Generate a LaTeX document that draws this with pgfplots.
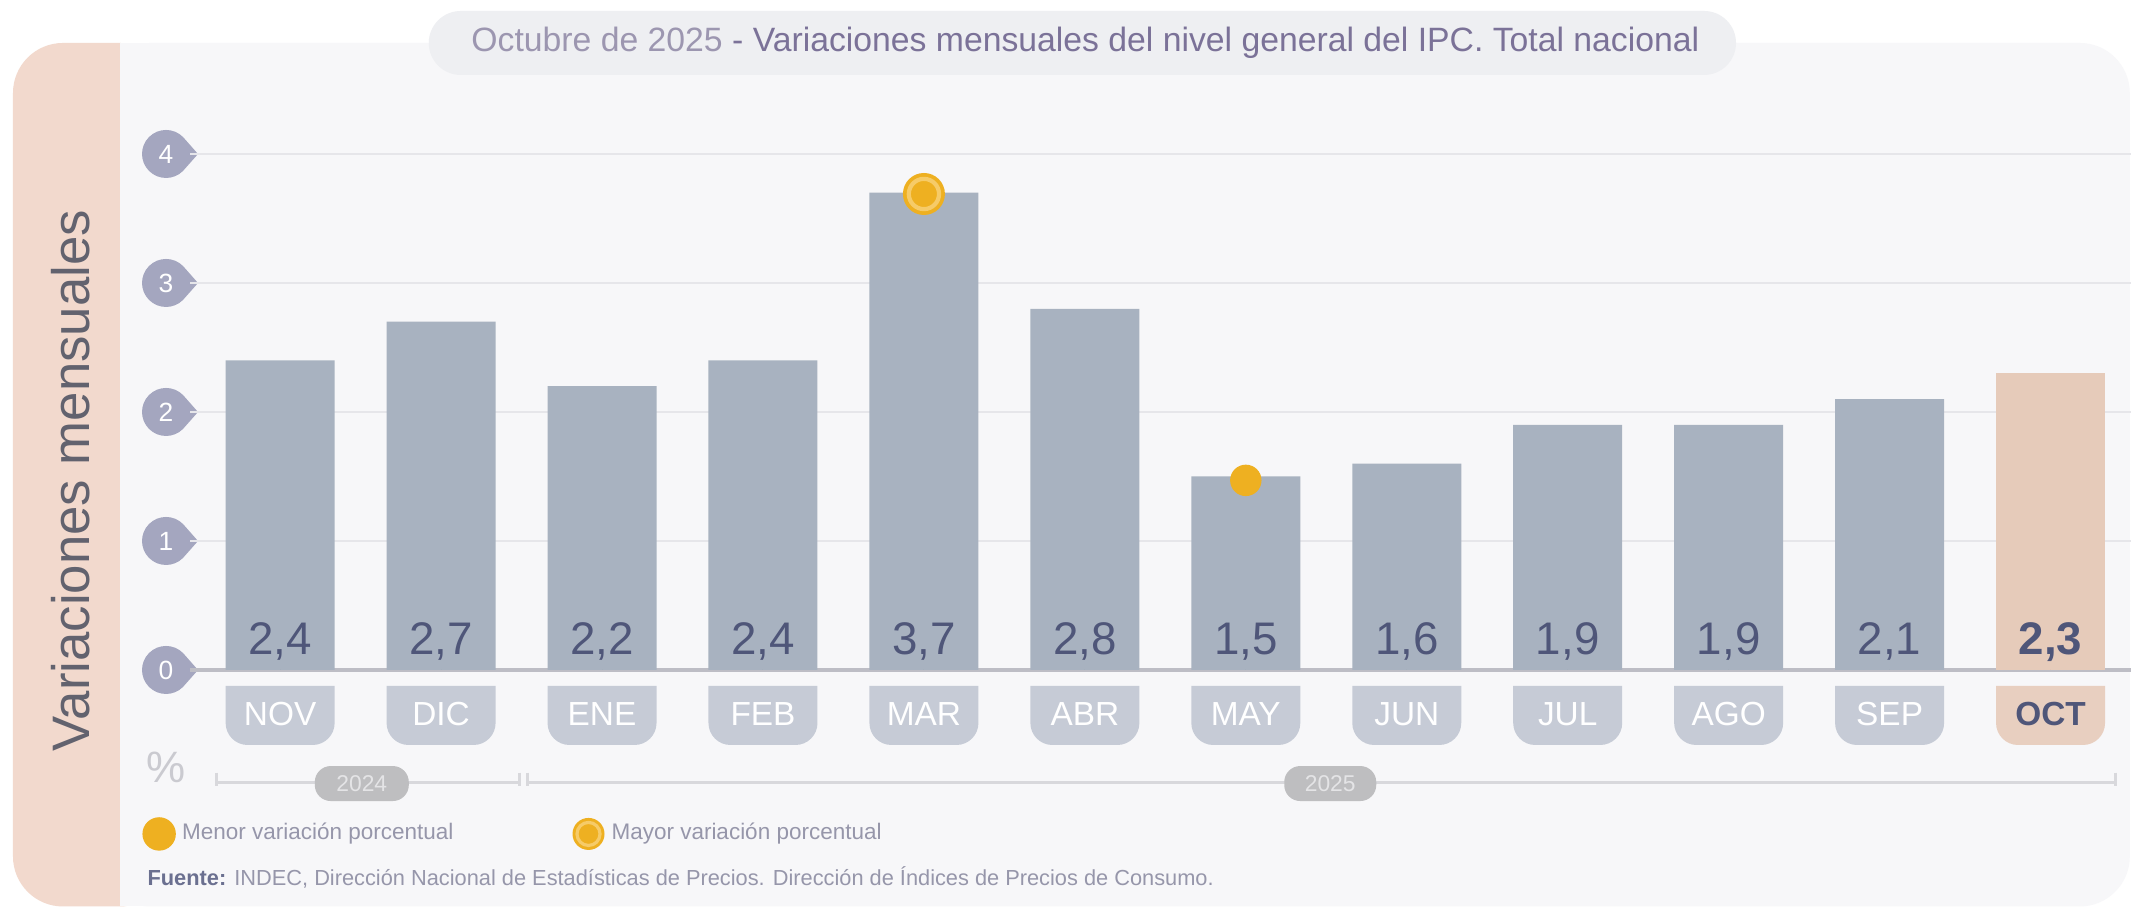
\documentclass[border=0pt]{standalone}
\usepackage{pgfplots}
\pgfplotsset{compat=1.18}
\usepackage{fontspec}
\setmainfont{Liberation Sans}

\definecolor{panel}{HTML}{F7F7F9}
\definecolor{pinkpanel}{HTML}{F2D9CD}
\definecolor{titlepill}{HTML}{EEEFF2}
\definecolor{titletext}{HTML}{7B7298}
\definecolor{titlelight}{HTML}{9C96B0}
\definecolor{gridc}{HTML}{E6E6EA}
\definecolor{basec}{HTML}{BDBDC5}
\definecolor{barc}{HTML}{A8B2C0}
\definecolor{baroct}{HTML}{E6CBBA}
\definecolor{tabc}{HTML}{C6CBD6}
\definecolor{taboct}{HTML}{E8CFC0}
\definecolor{valtext}{HTML}{4F5679}
\definecolor{bubblec}{HTML}{A4A6BF}
\definecolor{ipcorange}{HTML}{EEB021}
\definecolor{ipclight}{HTML}{F6CB68}
\definecolor{pctc}{HTML}{CACAD0}
\definecolor{yearline}{HTML}{D8D8DC}
\definecolor{yearpill}{HTML}{BEBEC0}
\definecolor{yeartext}{HTML}{E4E4E6}
\definecolor{legtext}{HTML}{9696AA}
\definecolor{fuentec}{HTML}{6B7090}
\definecolor{sidetext}{HTML}{62626E}

% tab under each bar, square top and round bottom
\pgfdeclareplotmark{tab}{%
  \pgfpathmoveto{\pgfpoint{-0.545cm}{0cm}}%
  \pgfpathlineto{\pgfpoint{0.545cm}{0cm}}%
  \pgfpathlineto{\pgfpoint{0.545cm}{-0.37cm}}%
  \pgfpatharc{0}{-90}{0.22cm}%
  \pgfpathlineto{\pgfpoint{-0.325cm}{-0.59cm}}%
  \pgfpatharc{270}{180}{0.22cm}%
  \pgfpathclose
  \pgfusepathqfill}
% y tick bubble pointing right
\pgfdeclareplotmark{bubble}{%
  \pgfpathmoveto{\pgfpoint{0.08cm}{0cm}}%
  \pgfpathlineto{\pgfpoint{-0.07cm}{0.17cm}}%
  \pgfpatharc{45}{315}{0.24cm}%
  \pgfpathclose
  \pgfusepathqfill}
% ring marker for the highest value
\pgfdeclareplotmark{ring}{%
  \pgfsetfillcolor{ipcorange}%
  \pgfpathcircle{\pgfpointorigin}{\pgfplotmarksize}\pgfusepathqfill
  \pgfsetstrokecolor{ipclight}\pgfsetlinewidth{0.2\pgfplotmarksize}%
  \pgfpathcircle{\pgfpointorigin}{0.72\pgfplotmarksize}\pgfusepathqstroke}

\pgfplotsset{ipcframe/.style={
  at={(1.90cm,2.37cm)}, anchor=south west,
  scale only axis, width=19.41cm, height=5.418cm,
  xmin=-0.56, xmax=11.5, ymin=0, ymax=4.2,
  clip=false}}

\begin{document}
\begin{tikzpicture}
\fill[white] (0,0) rectangle (21.31,9.07);
\path[use as bounding box] (0,0) rectangle (21.31,9.07);
\clip (0,0) rectangle (21.31,9.07);
\begin{scope}[x=0.01cm,y=-0.01cm,yshift=9.07cm]
  \fill[panel, rounded corners=0.5cm] (100,43) rectangle (2131,907);
  \fill[pinkpanel, rounded corners=0.5cm] (13,43) rectangle (170,907);
  \fill[panel] (120,43) rectangle (220,907);
  \fill[titlepill, rounded corners=0.32cm] (429,11) rectangle (1737,75);
  \node[text=titletext, font=\fontsize{9.6}{10}\selectfont] at (1086,43)
    {\textcolor{titlelight}{Octubre de 2025} - Variaciones mensuales del nivel general del IPC. Total nacional};
  \node[rotate=90, text=sidetext, font=\fontsize{15}{16}\selectfont] at (71,481) {Variaciones mensuales};
  \node[text=pctc, font=\fontsize{12.5}{14}\selectfont] at (166,768) {\%};
  \draw[yearline, line width=0.85pt] (217,783) -- (520,783) (528,783) -- (2117,783);
  \draw[yearline, line width=0.85pt] (217,773) -- (217,786) (520,773) -- (520,786)
    (528,773) -- (528,786) (2117,773) -- (2117,786);
  \node[fill=yearpill, rounded corners=0.16cm, minimum width=0.94cm, minimum height=0.35cm,
    inner sep=0pt, text=yeartext, font=\fontsize{6.5}{7}\selectfont] at (362,784) {2024};
  \node[fill=yearpill, rounded corners=0.16cm, minimum width=0.92cm, minimum height=0.35cm,
    inner sep=0pt, text=yeartext, font=\fontsize{6.5}{7}\selectfont] at (1331,784) {2025};
  \node[anchor=west, inner sep=0pt, text=legtext, font=\fontsize{6.2}{7}\selectfont] at (147,878)
    {\textbf{\color{fuentec}Fuente:} INDEC, Dirección Nacional de Estadísticas de Precios. Dirección de Índices de Precios de Consumo.};
\end{scope}

% tabs and bubbles go under the tick labels of the main axis
\begin{axis}[ipcframe, hide axis]
\addplot[only marks, mark=tab, mark options={fill=tabc, draw=none}] coordinates {
  (0,-0.124) (1,-0.124) (2,-0.124) (3,-0.124) (4,-0.124) (5,-0.124)
  (6,-0.124) (7,-0.124) (8,-0.124) (9,-0.124) (10,-0.124)};
\addplot[only marks, mark=tab, mark options={fill=taboct, draw=none}] coordinates {(11,-0.124)};
\addplot[only marks, mark=bubble, mark options={fill=bubblec, draw=none}] coordinates {
  (-0.56,0) (-0.56,1) (-0.56,2) (-0.56,3) (-0.56,4)};
\end{axis}

\begin{axis}[ipcframe,
  axis x line*=bottom, axis y line*=left,
  y axis line style={draw=none},
  x axis line style={draw=basec, line width=1pt},
  major tick length=0pt,
  xtick={0,...,11},
  xticklabels={NOV,DIC,ENE,FEB,MAR,ABR,MAY,JUN,JUL,AGO,SEP,\textbf{\color{valtext}OCT}},
  xticklabel style={anchor=center, yshift=-0.44cm, text=white, font=\fontsize{9.5}{10}\selectfont},
  ytick={0,1,2,3,4},
  yticklabels={0,1,2,3,4},
  yticklabel style={anchor=center, xshift=-0.24cm, text=white, font=\fontsize{7.5}{8}\selectfont},
  ymajorgrids, grid style={draw=gridc, line width=0.85pt},
  legend style={at={(axis description cs:-0.0245,-0.3026)}, anchor=west, legend columns=2,
    draw=none, fill=none, font=\fontsize{6.4}{7}\selectfont, text=legtext, inner sep=0pt,
    /tikz/every even column/.append style={column sep=1.12cm}},
  legend image code/.code={\draw[#1] plot coordinates {(0.16cm,0cm)};},
  legend image post style={mark size=0.16cm},
]
\addplot[ybar, bar width=1.09cm, bar shift=0pt, fill=barc, draw=none, forget plot] coordinates {
  (0,2.4) (1,2.7) (2,2.2) (3,2.4) (4,3.7) (5,2.8) (6,1.5) (7,1.6) (8,1.9) (9,1.9) (10,2.1)};
\addplot[ybar, bar width=1.09cm, bar shift=0pt, fill=baroct, draw=none, forget plot] coordinates {
  (11,2.3)};
\addplot[only marks, mark=*, mark size=0pt, mark options={draw=none, fill=none}, forget plot,
  point meta=explicit symbolic, nodes near coords={\pgfplotspointmeta},
  every node near coord/.append style={anchor=base, yshift=0.15cm, inner sep=0pt,
    text=valtext, font=\fontsize{13}{14}\selectfont}] coordinates {
  (0,0) [2,4] (1,0) [2,7] (2,0) [2,2] (3,0) [2,4] (4,0) [3,7] (5,0) [2,8]
  (6,0) [1,5] (7,0) [1,6] (8,0) [1,9] (9,0) [1,9] (10,0) [2,1] (11,0) [\textbf{2,3}]};
\addplot[only marks, mark=*, mark size=0.15cm, color=ipcorange] coordinates {(6,1.47)};
\addlegendentry{Menor variación porcentual}
\addplot[only marks, mark=ring, mark size=0.21cm, color=ipcorange] coordinates {(4,3.69)};
\addlegendentry{Mayor variación porcentual}
\end{axis}
\end{tikzpicture}
\end{document}
